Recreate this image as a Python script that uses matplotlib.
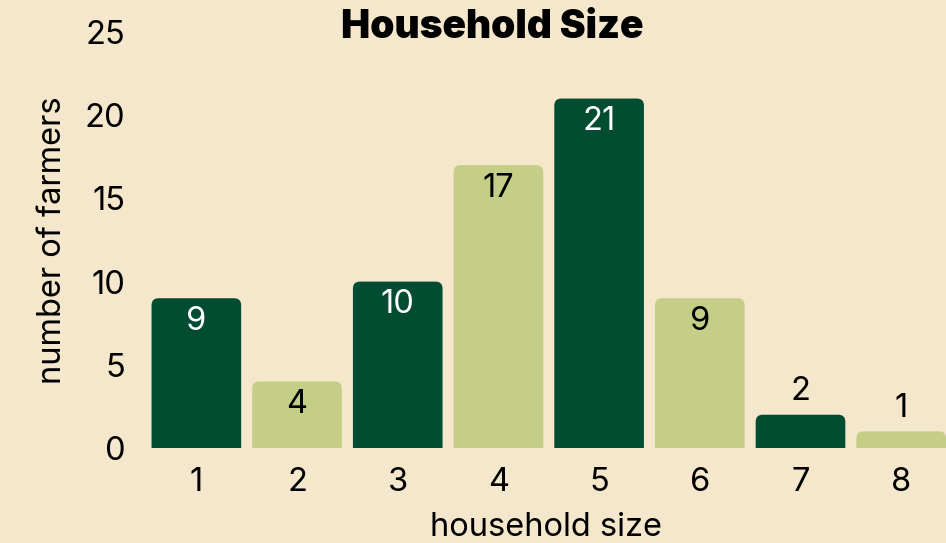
import matplotlib
matplotlib.use("Agg")
import matplotlib.pyplot as plt
from matplotlib.path import Path
from matplotlib.patches import PathPatch

categories = [1, 2, 3, 4, 5, 6, 7, 8]
values = [9, 4, 10, 17, 21, 9, 2, 1]
yticks = [0, 5, 10, 15, 20, 25]
title = "Household Size"
xlabel = "household size"
ylabel = "number of farmers"

BG = "#F5E7CB"
DARK = "#024C31"
LIGHT = "#C4CE87"
colors = [DARK, LIGHT] * 4
text_colors = ["white", "black"] * 4

plt.rcParams['font.family'] = ['Inter', 'DejaVu Sans']

W, H = 946, 543
fig = plt.figure(figsize=(W / 100, H / 100), dpi=100, facecolor=BG)
ax = fig.add_axes([146 / W, 95 / H, 800 / W, 416 / H])
ax.set_facecolor(BG)
ax.set_xlim(0.5, 8.445)
ax.set_ylim(0, 25)

width = 0.89
bars = ax.bar(categories, values, width=width, color=colors)

# replace with rounded-top bars
px_x = 800 / (8.445 - 0.5)
px_y = 416 / 25
r = 7
for b, c in zip(bars, colors):
    x0, y0 = b.get_x(), b.get_y()
    w, h = b.get_width(), b.get_height()
    rx = r / px_x
    ry = min(r / px_y, h)
    verts = [(x0, y0), (x0, y0 + h - ry), (x0, y0 + h), (x0 + rx, y0 + h),
             (x0 + w - rx, y0 + h), (x0 + w, y0 + h), (x0 + w, y0 + h - ry),
             (x0 + w, y0), (x0, y0)]
    codes = [Path.MOVETO, Path.LINETO, Path.CURVE3, Path.CURVE3,
             Path.LINETO, Path.CURVE3, Path.CURVE3, Path.LINETO, Path.CLOSEPOLY]
    b.set_visible(False)
    ax.add_patch(PathPatch(Path(verts, codes), facecolor=c, edgecolor='none'))

FS = 23.5
off = 23 / px_y
for xv, v, tc in zip(categories, values, text_colors):
    if v >= 3:
        ax.text(xv, v - off, str(v), ha='center', va='center', color=tc, fontsize=FS)
    else:
        ax.text(xv, v + off, str(v), ha='center', va='center', color='black', fontsize=FS)

ax.set_xticks(categories)
ax.set_xticklabels([str(c) for c in categories])
ax.set_yticks(yticks)
ax.tick_params(length=0, labelsize=FS, pad=14)
ax.tick_params(axis='y', pad=15)
for s in ax.spines.values():
    s.set_visible(False)

ax.set_xlabel(xlabel, fontsize=FS, labelpad=10)
ax.set_ylabel(ylabel, fontsize=FS, labelpad=12)
fig.text(492 / W, 1 - 28 / H, title, ha='center', va='center', fontsize=28, fontweight='black')

fig.savefig("out.png", dpi=100, facecolor=BG)
